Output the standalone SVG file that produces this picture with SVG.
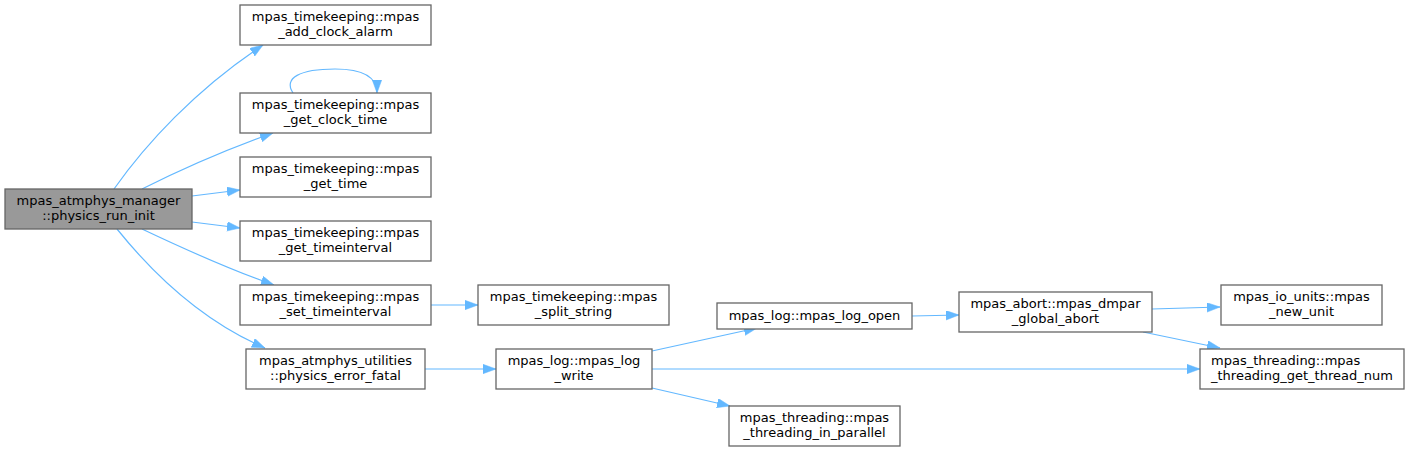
<svg xmlns="http://www.w3.org/2000/svg" width="1409" height="452" viewBox="0 0 1409 452">
<style>
.n rect{fill:#ffffff;stroke:#666666;stroke-width:1.3}
.n.m rect{fill:#999999}
.n text{font-family:"DejaVu Sans",sans-serif;font-size:13px;fill:#000000;text-anchor:middle}
.n text.l{text-anchor:start}
.e path{fill:none;stroke:#63b8ff;stroke-width:1.2;marker-end:url(#ah)}
</style>
<defs>
<marker id="ah" markerUnits="userSpaceOnUse" markerWidth="14" markerHeight="10" refX="13" refY="4.7" orient="auto">
<path d="M0,0 L13,4.7 L0,9.4 z" fill="#63b8ff" stroke="#63b8ff" stroke-width="0.5"/>
</marker>
</defs>
<rect width="1409" height="452" fill="#ffffff"/>
<g id="edges" class="e">
<path d="M114,189 C145,145 195,90 263,45"/>
<path d="M142,189 C180,170 225,150 273,133"/>
<path d="M293,93 C283,78 300,69 335,69 C365,69 377,78 377,93"/>
<path d="M192,196 L240,190"/>
<path d="M192,222 L240,228"/>
<path d="M142,229 C180,247 225,268 274,285"/>
<path d="M117,229 C150,270 200,320 265,348"/>
<path d="M431,305 L478,305"/>
<path d="M425,369 L496,369"/>
<path d="M652,351 L757,328"/>
<path d="M652,369 L1200,369"/>
<path d="M652,388 L730,406"/>
<path d="M912,316 L959,315"/>
<path d="M1152,309 L1220,307"/>
<path d="M1143,332 L1220,348"/>
</g>
<g id="main" class="n m"><rect x="5" y="189" width="187" height="40"/><text x="98.5" y="205">mpas_atmphys_manager</text><text x="98.5" y="220">::physics_run_init</text></g>
<g id="add_clock_alarm" class="n"><rect x="240" y="5" width="191" height="40"/><text x="335.5" y="21">mpas_timekeeping::mpas</text><text x="335.5" y="36">_add_clock_alarm</text></g>
<g id="get_clock_time" class="n"><rect x="240" y="93" width="191" height="40"/><text x="335.5" y="109">mpas_timekeeping::mpas</text><text x="335.5" y="124">_get_clock_time</text></g>
<g id="get_time" class="n"><rect x="240" y="157" width="191" height="40"/><text x="335.5" y="173">mpas_timekeeping::mpas</text><text x="335.5" y="188">_get_time</text></g>
<g id="get_timeinterval" class="n"><rect x="240" y="221" width="191" height="40"/><text x="335.5" y="237">mpas_timekeeping::mpas</text><text x="335.5" y="252">_get_timeinterval</text></g>
<g id="set_timeinterval" class="n"><rect x="240" y="285" width="191" height="40"/><text x="335.5" y="301">mpas_timekeeping::mpas</text><text x="335.5" y="316">_set_timeinterval</text></g>
<g id="physics_error_fatal" class="n"><rect x="246" y="349" width="179" height="40"/><text x="335.5" y="365">mpas_atmphys_utilities</text><text x="335.5" y="380">::physics_error_fatal</text></g>
<g id="split_string" class="n"><rect x="478" y="285" width="191" height="40"/><text x="573.5" y="301">mpas_timekeeping::mpas</text><text x="573.5" y="316">_split_string</text></g>
<g id="log_write" class="n"><rect x="496" y="349" width="156" height="40"/><text x="574" y="365">mpas_log::mpas_log</text><text x="574" y="380">_write</text></g>
<g id="log_open" class="n"><rect x="717" y="303" width="195" height="26"/><text x="814.5" y="320">mpas_log::mpas_log_open</text></g>
<g id="in_parallel" class="n"><rect x="729" y="406" width="171" height="40"/><text x="814.5" y="422">mpas_threading::mpas</text><text x="814.5" y="437">_threading_in_parallel</text></g>
<g id="dmpar_global_abort" class="n"><rect x="959" y="292" width="193" height="40"/><text x="1055.5" y="308">mpas_abort::mpas_dmpar</text><text x="1055.5" y="323">_global_abort</text></g>
<g id="new_unit" class="n"><rect x="1221" y="285" width="161" height="40"/><text x="1301.5" y="301">mpas_io_units::mpas</text><text x="1301.5" y="316">_new_unit</text></g>
<g id="get_thread_num" class="n"><rect x="1200" y="349" width="204" height="40"/><text class="l" x="1211" y="365">mpas_threading::mpas</text><text class="l" x="1211" y="380">_threading_get_thread_num</text></g>
</svg>
